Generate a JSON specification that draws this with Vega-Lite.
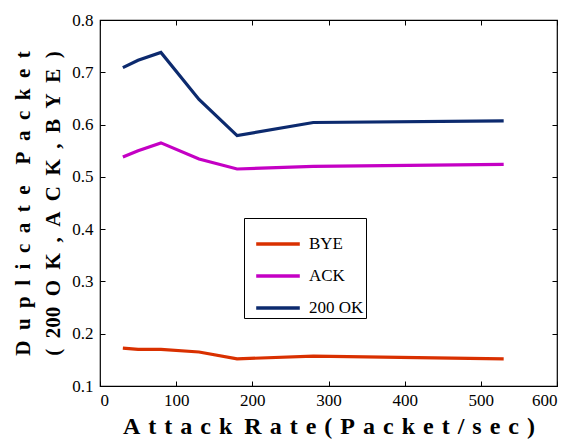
{
  "$schema": "https://vega.github.io/schema/vega-lite/v6.json",
  "width": 457,
  "height": 366,
  "autosize": {"type": "none"},
  "padding": {"left": 100, "top": 20, "right": 18, "bottom": 54},
  "background": "white",
  "config": {
    "view": {"stroke": "black", "strokeWidth": 1.2},
    "font": "Liberation Serif",
    "axis": {
      "grid": false,
      "domain": false,
      "tickSize": -5,
      "tickColor": "black",
      "labelColor": "black",
      "titleColor": "black",
      "titleFontWeight": "bold"
    }
  },
  "data": {
    "values": [
      {"series": "BYE", "x": 30, "y": 0.1725},
      {"series": "BYE", "x": 50, "y": 0.170},
      {"series": "BYE", "x": 80, "y": 0.170},
      {"series": "BYE", "x": 130, "y": 0.165},
      {"series": "BYE", "x": 180, "y": 0.152},
      {"series": "BYE", "x": 280, "y": 0.157},
      {"series": "BYE", "x": 530, "y": 0.152},
      {"series": "ACK", "x": 30, "y": 0.538},
      {"series": "ACK", "x": 50, "y": 0.550},
      {"series": "ACK", "x": 80, "y": 0.565},
      {"series": "ACK", "x": 130, "y": 0.534},
      {"series": "ACK", "x": 180, "y": 0.515},
      {"series": "ACK", "x": 280, "y": 0.520},
      {"series": "ACK", "x": 530, "y": 0.524},
      {"series": "200 OK", "x": 30, "y": 0.709},
      {"series": "200 OK", "x": 50, "y": 0.723},
      {"series": "200 OK", "x": 80, "y": 0.738},
      {"series": "200 OK", "x": 130, "y": 0.648},
      {"series": "200 OK", "x": 180, "y": 0.579},
      {"series": "200 OK", "x": 280, "y": 0.604},
      {"series": "200 OK", "x": 530, "y": 0.607}
    ]
  },
  "resolve": {"axis": {"x": "independent", "y": "independent"}},
  "layer": [
    {
      "mark": {"type": "line", "strokeWidth": 3.2},
      "encoding": {
        "x": {
          "field": "x", "type": "quantitative",
          "scale": {"domain": [0, 600], "nice": false},
          "axis": {
            "values": [0, 100, 200, 300, 400, 500, 600],
            "title": "A\u2004t\u2004t\u2004a\u2004c\u2004k\u2002R\u2004a\u2004t\u2004e\u2004(\u2004P\u2004a\u2004c\u2004k\u2004e\u2004t\u2004/\u2004s\u2004e\u2004c\u2004)",
            "titleFont": "Liberation Serif",
            "labelFont": "Liberation Serif",
            "labelFontSize": 17,
            "titleFontSize": 24,
            "titlePadding": 6,
            "labelPadding": 11
          }
        },
        "y": {
          "field": "y", "type": "quantitative",
          "scale": {"domain": [0.1, 0.8], "nice": false, "zero": false},
          "axis": {
            "values": [0.1, 0.2, 0.3, 0.4, 0.5, 0.6, 0.7, 0.8],
            "format": ".1f",
            "title": ["D\u2002u\u2002p\u2002l\u2002i\u2002c\u2002a\u2002t\u2002e\u2002\u2002P\u2002a\u2002c\u2002k\u2002e\u2002t", "(\u2002200\u2002O\u2002K\u2002,\u2002A\u2002C\u2002K\u2002,\u2002B\u2002Y\u2002E\u2002)"],
            "titleFont": "Liberation Serif",
            "labelFont": "Liberation Serif",
            "labelFontSize": 17,
            "titleFontSize": 21,
            "titleLineHeight": 30,
            "titlePadding": 8,
            "labelPadding": 12
          }
        },
        "color": {
          "field": "series", "type": "nominal",
          "scale": {"domain": ["BYE", "ACK", "200 OK"], "range": ["#d93000", "#c400c4", "#0c2a6e"]},
          "legend": {
            "title": null,
            "orient": "none",
            "legendX": 144,
            "legendY": 198,
            "symbolType": "stroke",
            "symbolSize": 1900,
            "symbolStrokeWidth": 3.5,
            "symbolOffset": 8,
            "labelFont": "Liberation Serif",
            "labelFontSize": 17,
            "labelColor": "black",
            "labelOffset": 7,
            "rowPadding": -14,
            "strokeColor": "black",
            "fillColor": "white",
            "padding": 2,
            "labelLimit": 200
          }
        }
      }
    },
    {
      "mark": {"type": "line", "opacity": 0},
      "encoding": {
        "x": {
          "field": "x", "type": "quantitative",
          "scale": {"domain": [0, 600], "nice": false},
          "axis": {"orient": "top", "values": [0, 100, 200, 300, 400, 500, 600], "labels": false, "title": null}
        },
        "y": {
          "field": "y", "type": "quantitative",
          "scale": {"domain": [0.1, 0.8], "nice": false, "zero": false},
          "axis": {"orient": "right", "values": [0.1, 0.2, 0.3, 0.4, 0.5, 0.6, 0.7, 0.8], "labels": false, "title": null}
        },
        "detail": {"field": "series"}
      }
    }
  ]
}
